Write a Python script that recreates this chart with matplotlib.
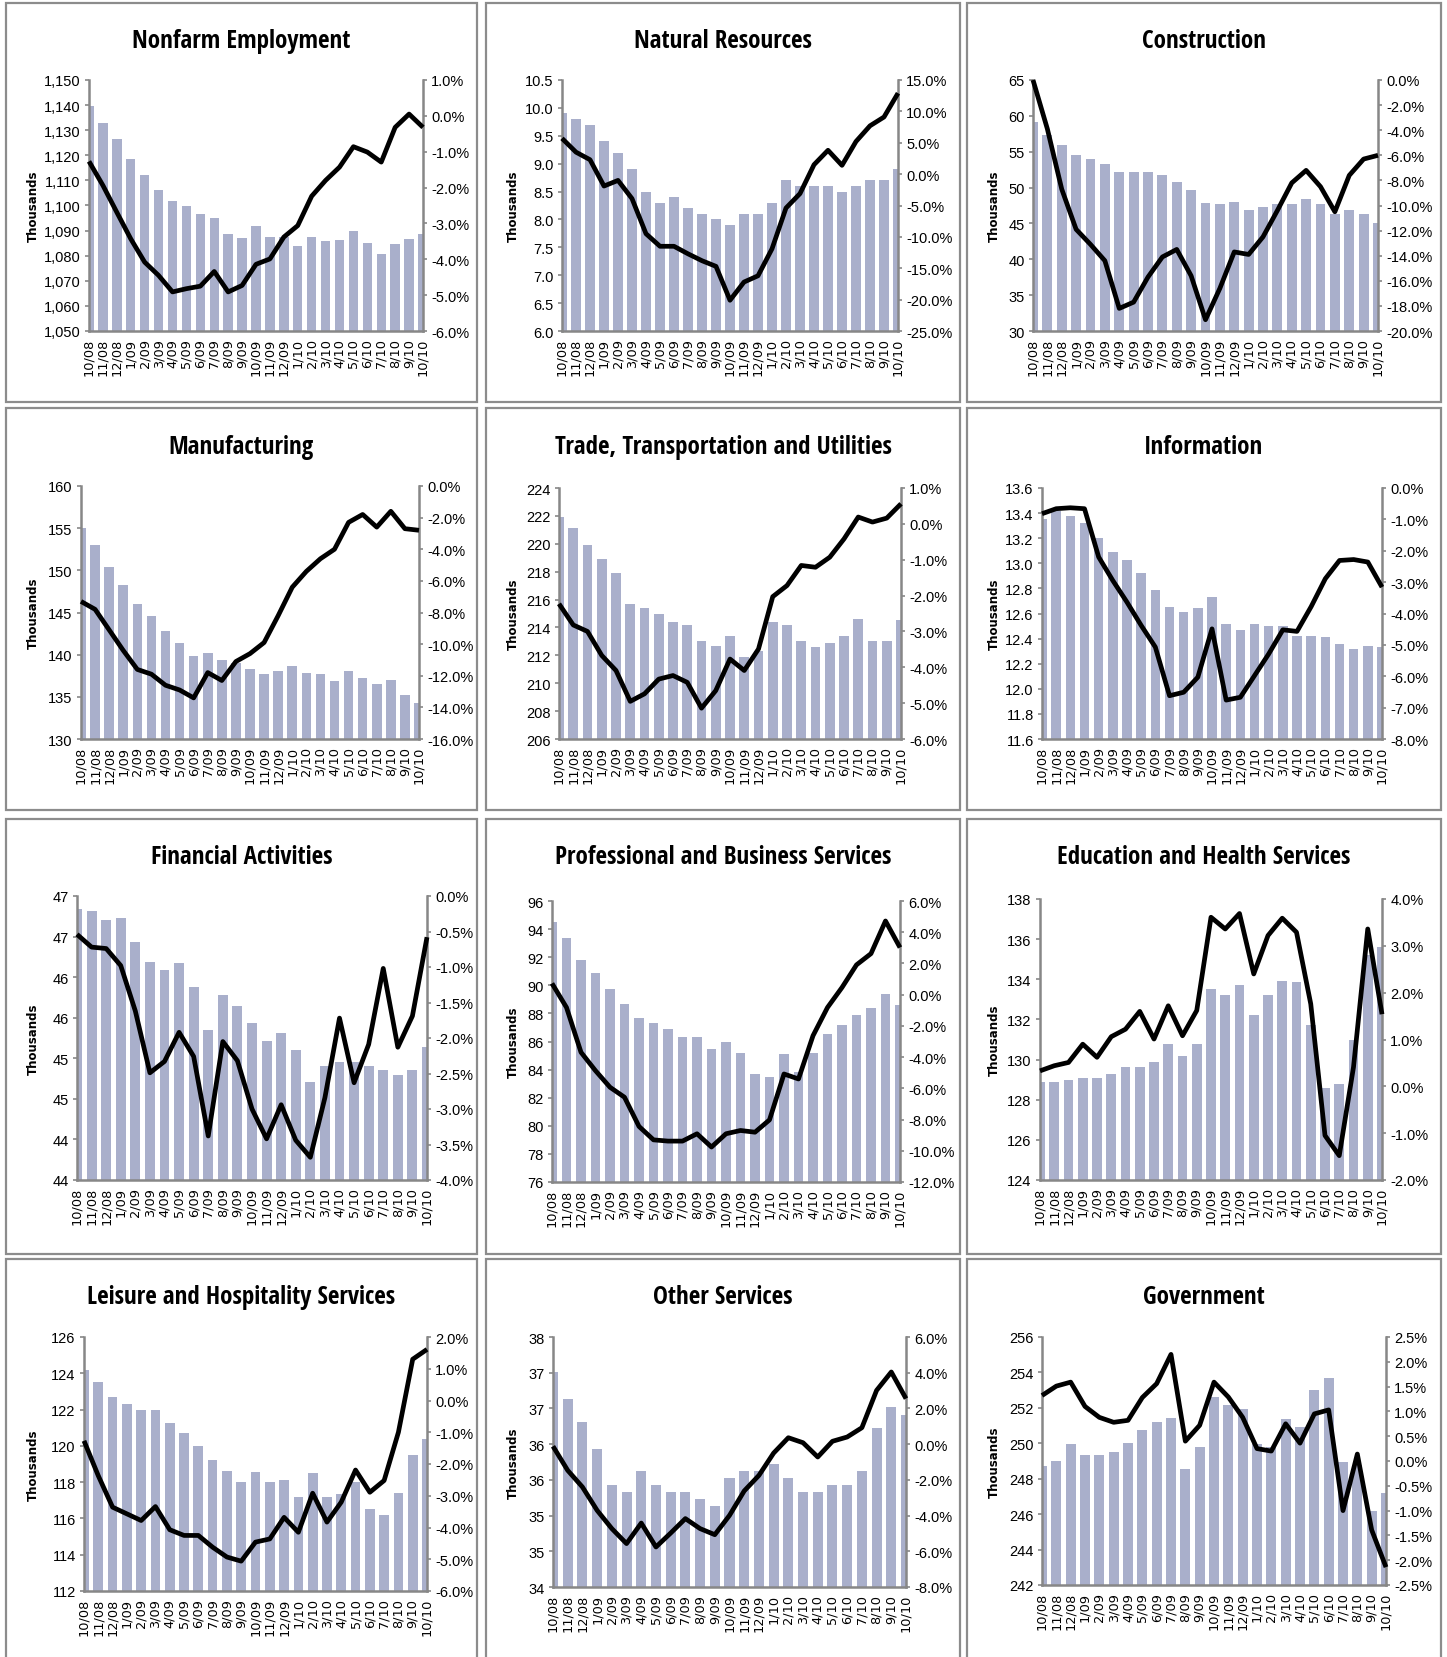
import math
import matplotlib
matplotlib.use("Agg")
import matplotlib.pyplot as plt
from matplotlib import font_manager
from matplotlib.patches import Rectangle
from matplotlib.ticker import FixedLocator, FuncFormatter

W, H = 1447, 1658

months = ["10/08", "11/08", "12/08", "1/09", "2/09", "3/09", "4/09", "5/09", "6/09",
          "7/09", "8/09", "9/09", "10/09", "11/09", "12/09", "1/10", "2/10", "3/10",
          "4/10", "5/10", "6/10", "7/10", "8/10", "9/10", "10/10"]

# employment level (thousands) and year-over-year change (%)
nonfarm_k = [1139.5, 1133.0, 1126.3, 1118.7, 1112.0, 1106.0, 1101.6, 1099.9, 1096.7, 1095.1,
             1088.6, 1086.9, 1091.8, 1087.3, 1087.5, 1084.0, 1087.3, 1085.7, 1086.4, 1089.7,
             1085.1, 1080.8, 1084.6, 1086.7, 1088.5]
nonfarm_chg = [-1.27, -1.94, -2.69, -3.43, -4.08, -4.45, -4.91, -4.82, -4.75, -4.34, -4.91,
               -4.73, -4.14, -3.99, -3.38, -3.06, -2.24, -1.80, -1.43, -0.86, -1.01, -1.29,
               -0.32, 0.05, -0.32]

natres_k = [9.9, 9.8, 9.7, 9.4, 9.2, 8.9, 8.5, 8.3, 8.4, 8.2, 8.1, 8.0, 7.9, 8.1, 8.1, 8.3,
            8.7, 8.6, 8.6, 8.6, 8.5, 8.6, 8.7, 8.7, 8.9]
natres_chg = [5.7, 3.5, 2.3, -1.9, -1.0, -3.9, -9.5, -11.5, -11.5, -12.7, -13.8, -14.7, -20.1,
              -17.2, -16.2, -11.9, -5.4, -3.1, 1.5, 3.8, 1.4, 5.2, 7.7, 9.1, 12.9]

constr_k = [59.1, 57.3, 55.9, 54.5, 54.0, 53.3, 52.2, 52.2, 52.2, 51.8, 50.8, 49.7, 47.9, 47.7,
            48.0, 46.9, 47.3, 47.7, 47.7, 48.4, 47.7, 46.3, 46.9, 46.3, 45.0]
constr_chg = [0.0, -3.9, -8.7, -11.9, -13.1, -14.4, -18.2, -17.7, -15.7, -14.1, -13.5, -15.6,
              -19.1, -16.6, -13.7, -13.9, -12.5, -10.4, -8.2, -7.2, -8.5, -10.5, -7.6, -6.3, -6.0]

manuf_k = [155.0, 153.0, 150.4, 148.3, 146.0, 144.6, 142.8, 141.4, 139.9, 140.2, 139.4, 139.0,
           138.3, 137.7, 138.1, 138.7, 137.8, 137.7, 136.9, 138.1, 137.2, 136.5, 137.0, 135.2,
           134.3]
manuf_chg = [-7.3, -7.8, -9.1, -10.4, -11.6, -11.9, -12.6, -12.9, -13.4, -11.8, -12.3, -11.1,
             -10.6, -9.9, -8.2, -6.4, -5.4, -4.6, -4.0, -2.3, -1.8, -2.6, -1.6, -2.7, -2.8]

trade_k = [221.9, 221.1, 219.9, 218.9, 217.9, 215.7, 215.4, 215.0, 214.4, 214.2, 213.0, 212.7,
           213.4, 211.9, 212.3, 214.4, 214.2, 213.0, 212.6, 212.9, 213.4, 214.6, 213.0, 213.0,
           214.5]
trade_chg = [-2.23, -2.82, -3.0, -3.67, -4.09, -4.95, -4.74, -4.33, -4.23, -4.42, -5.14, -4.65,
             -3.77, -4.09, -3.49, -2.03, -1.72, -1.16, -1.21, -0.93, -0.42, 0.19, 0.05, 0.16, 0.56]

info_k = [13.35, 13.42, 13.38, 13.32, 13.20, 13.09, 13.03, 12.92, 12.79, 12.65, 12.61, 12.64,
          12.73, 12.52, 12.47, 12.52, 12.50, 12.50, 12.42, 12.42, 12.41, 12.36, 12.32, 12.34,
          12.33]
info_chg = [-0.82, -0.66, -0.63, -0.66, -2.2, -2.95, -3.64, -4.38, -5.07, -6.62, -6.51, -6.03,
            -4.49, -6.76, -6.67, -5.98, -5.29, -4.52, -4.57, -3.78, -2.89, -2.31, -2.28, -2.36,
            -3.16]

fin_k = [46.84, 46.82, 46.70, 46.73, 46.43, 46.19, 46.09, 46.17, 45.88, 45.35, 45.78, 45.65,
         45.43, 45.21, 45.31, 45.10, 44.71, 44.90, 44.95, 44.95, 44.90, 44.86, 44.80, 44.86,
         45.14]
fin_chg = [-0.54, -0.72, -0.74, -0.98, -1.62, -2.49, -2.33, -1.92, -2.26, -3.38, -2.05, -2.32,
           -3.0, -3.42, -2.94, -3.44, -3.68, -2.84, -1.72, -2.63, -2.09, -1.02, -2.13, -1.69,
           -0.58]

prof_k = [94.5, 93.4, 91.8, 90.9, 89.75, 88.7, 87.7, 87.3, 86.9, 86.3, 86.3, 85.5, 86.0, 85.2,
          83.7, 83.5, 85.1, 83.8, 85.2, 86.5, 87.2, 87.9, 88.4, 89.4, 88.6]
prof_chg = [0.72, -0.82, -3.69, -4.87, -5.93, -6.57, -8.44, -9.3, -9.38, -9.38, -8.91, -9.76,
            -8.91, -8.7, -8.81, -8.02, -5.08, -5.4, -2.63, -0.82, 0.46, 1.91, 2.63, 4.72, 3.02]

edu_k = [128.9, 128.9, 129.0, 129.1, 129.1, 129.3, 129.65, 129.65, 129.9, 130.8, 130.2, 130.8,
         133.5, 133.2, 133.7, 132.2, 133.2, 133.9, 133.85, 131.7, 128.6, 128.8, 131.0, 135.2,
         135.6]
edu_chg = [0.33, 0.44, 0.51, 0.9, 0.62, 1.06, 1.22, 1.6, 1.01, 1.72, 1.08, 1.62, 3.61, 3.36,
           3.69, 2.4, 3.22, 3.59, 3.29, 1.76, -1.05, -1.48, 0.41, 3.36, 1.54]

leis_k = [124.17, 123.5, 122.7, 122.3, 122.0, 121.95, 121.25, 120.7, 120.0, 119.2, 118.6, 118.0,
          118.55, 118.0, 118.1, 117.2, 118.5, 117.2, 117.35, 118.0, 116.5, 116.2, 117.4, 119.5,
          120.4]
leis_chg = [-1.27, -2.37, -3.36, -3.57, -3.78, -3.34, -4.07, -4.25, -4.25, -4.62, -4.93, -5.06,
            -4.46, -4.36, -3.68, -4.15, -2.92, -3.83, -3.2, -2.19, -2.89, -2.52, -1.0, 1.3, 1.61]

other_k = [37.01, 36.63, 36.31, 35.93, 35.43, 35.33, 35.62, 35.43, 35.33, 35.33, 35.23, 35.13,
           35.52, 35.62, 35.62, 35.72, 35.52, 35.33, 35.33, 35.43, 35.43, 35.62, 36.22, 36.52,
           36.41]
other_chg = [-0.12, -1.47, -2.4, -3.71, -4.73, -5.57, -4.42, -5.76, -4.98, -4.17, -4.73, -5.07,
             -3.99, -2.62, -1.75, -0.5, 0.36, 0.08, -0.72, 0.16, 0.4, 0.92, 3.01, 4.04, 2.55]

gov_k = [248.73, 248.99, 249.95, 249.33, 249.33, 249.48, 250.03, 250.74, 251.2, 251.44, 248.54,
         249.8, 252.59, 252.14, 251.91, 249.95, 249.8, 251.38, 250.9, 253.0, 253.7, 248.93,
         248.8, 246.2, 247.2]
gov_chg = [1.32, 1.51, 1.59, 1.1, 0.88, 0.78, 0.82, 1.28, 1.56, 2.15, 0.4, 0.72, 1.59, 1.29,
           0.88, 0.25, 0.2, 0.75, 0.36, 0.95, 1.03, -1.0, 0.14, -1.39, -2.14]

titles = ["Nonfarm Employment", "Natural Resources", "Construction", "Manufacturing",
          "Trade, Transportation and Utilities", "Information", "Financial Activities",
          "Professional and Business Services", "Education and Health Services",
          "Leisure and Hospitality Services", "Other Services", "Government"]
levels = [nonfarm_k, natres_k, constr_k, manuf_k, trade_k, info_k,
          fin_k, prof_k, edu_k, leis_k, other_k, gov_k]
changes = [nonfarm_chg, natres_chg, constr_chg, manuf_chg, trade_chg, info_chg,
           fin_chg, prof_chg, edu_chg, leis_chg, other_chg, gov_chg]

# (min, max, step, label format) for the thousands axis
left_scales = [(1050, 1150, 10, "comma"), (6.0, 10.5, 0.5, "1f"), (30, 65, 5, "int"),
               (130, 160, 5, "int"), (206, 224, 2, "int"), (11.6, 13.6, 0.2, "1f"),
               (43.5, 47.0, 0.5, "round"), (76, 96, 2, "int"), (124, 138, 2, "int"),
               (112, 126, 2, "int"), (34.0, 37.5, 0.5, "round"), (242, 256, 2, "int")]
# (min, max, step) for the percent-change axis
right_scales = [(-6, 1, 1), (-25, 15, 5), (-20, 0, 2), (-16, 0, 2), (-6, 1, 1), (-8, 0, 1),
                (-4, 0, 0.5), (-12, 6, 2), (-2, 4, 1), (-6, 2, 1), (-8, 6, 2), (-2.5, 2.5, 0.5)]

# pixel boxes: panel frame (x0, y0, x1, y1) and plot area (x0, y0, x1, y1)
frames = [(6, 4, 477, 403), (486, 4, 960, 403), (967, 4, 1441, 403),
          (6, 409, 477, 811), (486, 409, 960, 811), (967, 409, 1441, 811),
          (6, 820, 477, 1255), (486, 820, 960, 1255), (967, 820, 1441, 1255),
          (6, 1260, 477, 1662), (486, 1260, 960, 1662), (967, 1260, 1441, 1662)]
plots = [(89, 81, 423, 332), (562, 81, 898, 332), (1033, 81, 1378, 332),
         (81, 487, 419, 740), (559, 489, 901, 740), (1042, 489, 1382, 740),
         (77, 897, 427, 1181), (552, 902, 900, 1183), (1040, 900, 1382, 1181),
         (84, 1338, 427, 1592), (553, 1338, 906, 1588), (1042, 1338, 1386, 1586)]

BAR = "#a9afcb"
GRID = "#878787"
TICK_FONT = ["Liberation Sans", "DejaVu Sans"]

# pick a narrow bold face for the panel titles if one is installed
_installed = {f.name for f in font_manager.fontManager.ttflist}
TITLE_FONT, TITLE_SIZE, TITLE_STRETCH = ["Liberation Sans", "DejaVu Sans"], 15.5, "normal"
for cand in ["Liberation Sans Narrow", "DejaVu Sans Condensed", "Open Sans Condensed",
             "Roboto Condensed", "Noto Sans Condensed"]:
    if cand in _installed:
        TITLE_FONT, TITLE_SIZE = [cand, "DejaVu Sans"], 18
        break
else:
    for f in font_manager.fontManager.ttflist:
        if f.stretch in ("condensed", "semi-condensed") and f.name in ("DejaVu Sans", "Open Sans", "Noto Sans"):
            TITLE_FONT, TITLE_SIZE, TITLE_STRETCH = [f.name, "DejaVu Sans"], 17.5, f.stretch
            break


def frange(lo, hi, step):
    n = int(round((hi - lo) / step))
    return [lo + i * step for i in range(n + 1)]


def left_fmt(kind):
    if kind == "comma":
        return FuncFormatter(lambda v, _: f"{v:,.0f}")
    if kind == "1f":
        return FuncFormatter(lambda v, _: f"{v:.1f}")
    if kind == "round":
        return FuncFormatter(lambda v, _: f"{int(math.floor(v + 0.5))}")
    return FuncFormatter(lambda v, _: f"{v:.0f}")


def fig_box(x0, y0, x1, y1):
    return [x0 / W, 1 - y1 / H, (x1 - x0) / W, (y1 - y0) / H]


fig = plt.figure(figsize=(W / 100, H / 100), dpi=100)

for i in range(12):
    fx0, fy0, fx1, fy1 = frames[i]
    fig.patches.append(Rectangle((fx0 / W, 1 - fy1 / H), (fx1 - fx0) / W, (fy1 - fy0) / H,
                                 transform=fig.transFigure, fill=False,
                                 edgecolor="#8c8c8c", linewidth=1.6))

    px0, py0, px1, py1 = plots[i]
    ax = fig.add_axes(fig_box(px0, py0, px1, py1))
    x = list(range(len(months)))
    lo, hi, step, kind = left_scales[i]
    ax.bar(x, levels[i], width=0.68, color=BAR, zorder=2)
    ax.set_xlim(0, len(months) - 1)
    ax.set_ylim(lo, hi)
    ax.yaxis.set_major_locator(FixedLocator(frange(lo, hi, step)))
    ax.yaxis.set_major_formatter(left_fmt(kind))
    ax.set_xticks(x)
    ax.set_xticklabels(months, rotation=90, fontsize=9.3, family="DejaVu Sans")
    ax.tick_params(axis="x", length=0, pad=5)
    ax.tick_params(axis="y", length=3, color=GRID, width=1.2, pad=3, labelsize=10.5)
    for lab in ax.get_yticklabels():
        lab.set_family(TICK_FONT)
    for side in ("top", "right"):
        ax.spines[side].set_visible(False)
    for side in ("left", "bottom"):
        ax.spines[side].set_color(GRID)
        ax.spines[side].set_linewidth(1.8)

    ax2 = ax.twinx()
    rlo, rhi, rstep = right_scales[i]
    ax2.plot(x, changes[i], color="black", linewidth=3.4, solid_joinstyle="round",
             solid_capstyle="butt", clip_on=False, zorder=3)
    ax2.set_ylim(rlo, rhi)
    ax2.set_xlim(0, len(months) - 1)
    ax2.yaxis.set_major_locator(FixedLocator(frange(rlo, rhi, rstep)))
    ax2.yaxis.set_major_formatter(FuncFormatter(lambda v, _: f"{v:.1f}%"))
    ax2.tick_params(axis="y", length=3, color=GRID, width=1.2, pad=3, labelsize=10.5)
    for lab in ax2.get_yticklabels():
        lab.set_family(TICK_FONT)
    for side in ("top", "left", "bottom"):
        ax2.spines[side].set_visible(False)
    ax2.spines["right"].set_color(GRID)
    ax2.spines["right"].set_linewidth(1.8)

    cx = (fx0 + fx1) / 2
    fig.text(cx / W, 1 - (fy0 + 38) / H, titles[i], ha="center", va="center",
             fontsize=TITLE_SIZE, fontweight="bold", family=TITLE_FONT,
             fontstretch=TITLE_STRETCH)
    fig.text((fx0 + 27) / W, 1 - ((py0 + py1) / 2) / H, "Thousands", rotation=90,
             ha="center", va="center", fontsize=8.5, fontweight="bold",
             family="DejaVu Sans")

fig.savefig("out.png", dpi=100, facecolor="white")
